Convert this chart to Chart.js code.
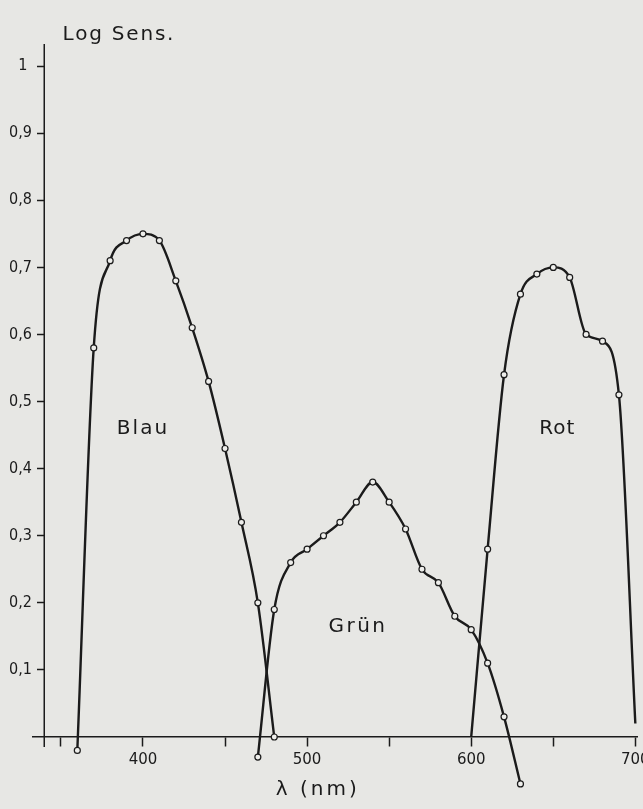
<!DOCTYPE html>
<html>
<head>
<meta charset="utf-8">
<script src="https://cdn.jsdelivr.net/npm/chart.js@4.4.1/dist/chart.umd.min.js"></script>
<style>
    html, body { margin: 0; padding: 0; background: #e7e7e4; }
    #wrap { position: relative; width: 643px; height: 809px; }
</style>
</head>
<body>
<div id="wrap"><canvas id="sensChart"></canvas></div>
<script>
// wavelengths (nm) and log sensitivity
const blauX = [360, 370, 380, 390, 400, 410, 420, 430, 440, 450, 460, 470, 480];
const blauY = [-0.02, 0.58, 0.71, 0.74, 0.75, 0.74, 0.68, 0.61, 0.53, 0.43, 0.32, 0.20, 0.0];

const gruenX = [470, 480, 490, 500, 510, 520, 530, 540, 550, 560, 570, 580, 590, 600, 610, 620, 630];
const gruenY = [-0.03, 0.19, 0.26, 0.28, 0.30, 0.32, 0.35, 0.38, 0.35, 0.31, 0.25, 0.23, 0.18, 0.16, 0.11, 0.03, -0.07];

const rotX = [600, 610, 620, 630, 640, 650, 660, 670, 680, 690, 700];
const rotY = [0.0, 0.28, 0.54, 0.66, 0.69, 0.70, 0.685, 0.60, 0.59, 0.51, 0.02];

const xTicks = [350, 400, 450, 500, 550, 600, 650, 700];
const xLabelTicks = [400, 500, 600, 700];
const yTicks = [0.1, 0.2, 0.3, 0.4, 0.5, 0.6, 0.7, 0.8, 0.9, 1];

const ink = "#1b1b1b";
const paper = "#eeeeeb";
const Y_MIN = -0.085, Y_MAX = 1.033;

function pts(xs, ys) {
    return xs.map((x, i) => ({ x: x, y: ys[i] }));
}

function curve(label, xs, ys) {
    return {
        label: label,
        data: pts(xs, ys),
        showLine: true,
        borderColor: ink,
        borderWidth: 2.4,
        cubicInterpolationMode: "monotone",
        pointRadius: ctx => (label === "Rot" && (ctx.dataIndex === 0 || ctx.dataIndex === xs.length - 1)) ? 0 : 3,
        pointBorderWidth: 1.2,
        pointBorderColor: ink,
        pointBackgroundColor: paper,
        clip: false
    };
}

// y axis line (stops just under the x axis) and the texts, placed via the scales
const extrasPlugin = {
    id: "extras",
    beforeDatasetsDraw(chart) {
        const { ctx, scales: { x, y } } = chart;
        const px = Math.round(x.getPixelForValue(340)) + 0.25;
        ctx.save();
        ctx.strokeStyle = ink;
        ctx.lineWidth = 1.5;
        ctx.beginPath();
        ctx.moveTo(px, y.getPixelForValue(-0.015));
        ctx.lineTo(px, y.getPixelForValue(Y_MAX));
        ctx.stroke();
        ctx.restore();
    },
    afterDraw(chart) {
        const { ctx, scales: { x, y } } = chart;
        const put = (txt, xv, yv, size, spacing, align) => {
            ctx.save();
            ctx.fillStyle = ink;
            ctx.font = size + 'px "DejaVu Sans", sans-serif';
            ctx.letterSpacing = spacing + "px";
            ctx.textAlign = align;
            ctx.textBaseline = "middle";
            ctx.fillText(txt, x.getPixelForValue(xv), y.getPixelForValue(yv));
            ctx.restore();
        };
        put("Log Sens.", 351, 1.047, 20, 1.8, "left");
        put("Blau", 400, 0.459, 20, 2, "center");
        put("Grün", 531, 0.164, 20, 2.5, "center");
        put("Rot", 652.5, 0.46, 20, 1, "center");
        put("λ (nm)", 506.5, -0.079, 20, 3, "center");
    }
};

new Chart(document.getElementById("sensChart"), {
    type: "scatter",
    data: {
        datasets: [
            curve("Blau", blauX, blauY),
            curve("Grün", gruenX, gruenY),
            curve("Rot", rotX, rotY)
        ]
    },
    options: {
        responsive: true,
        maintainAspectRatio: false,
        animation: false,
        layout: { padding: { left: 0, right: 0, top: 44, bottom: 15 } },
        plugins: { legend: { display: false }, tooltip: { enabled: false } },
        scales: {
            x: {
                type: "linear",
                min: 333,
                max: 701.5,
                position: { y: 0 },
                afterBuildTicks: s => { s.ticks = xTicks.map(v => ({ value: v })); },
                afterFit: s => { s.paddingRight = 0; s.paddingLeft = 0; },
                ticks: {
                    color: ink,
                    padding: 5,
                    autoSkip: false,
                    maxRotation: 0,
                    font: { family: '"DejaVu Sans", sans-serif', size: 15 },
                    callback: v => xLabelTicks.includes(v) ? String(v) : ""
                },
                grid: { drawOnChartArea: false, drawTicks: true, tickLength: 9, tickColor: ink, tickWidth: 1.5 },
                border: { display: true, color: ink, width: 1.5 }
            },
            y: {
                type: "linear",
                min: Y_MIN,
                max: Y_MAX,
                position: { x: 340 },
                afterBuildTicks: s => { s.ticks = yTicks.map(v => ({ value: v })); },
                ticks: { display: false },
                grid: { drawOnChartArea: false, drawTicks: true, tickLength: 7, tickColor: ink, tickWidth: 1.5 },
                border: { display: false }
            },
            yLabels: {
                type: "linear",
                min: Y_MIN,
                max: Y_MAX,
                position: "left",
                afterBuildTicks: s => { s.ticks = yTicks.map(v => ({ value: v })); },
                afterFit: s => { s.width = 33; },
                ticks: {
                    color: ink,
                    padding: 1,
                    font: { family: '"DejaVu Sans Condensed", "DejaVu Sans", sans-serif', size: 16 },
                    callback: v => v === 1 ? "1 " : v.toFixed(1).replace(".", ",")
                },
                grid: { display: false, drawTicks: false },
                border: { display: false }
            }
        }
    },
    plugins: [extrasPlugin]
});
</script>
</body>
</html>
